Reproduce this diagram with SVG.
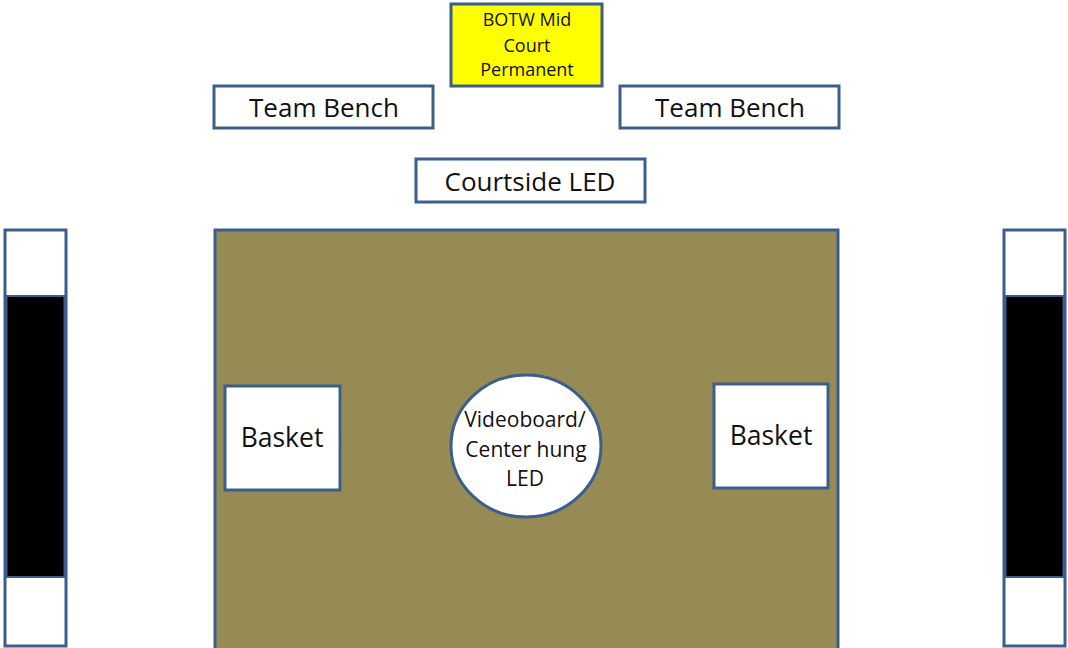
<svg xmlns="http://www.w3.org/2000/svg" width="1068" height="648" viewBox="0 0 1068 648">
<style>
.box{fill:#fff;stroke:#3B5E8C;stroke-width:3}
.t{font-family:"Open Sans","Liberation Sans",sans-serif;fill:#111;text-anchor:middle}
</style>
<rect width="1068" height="648" fill="#fff"/>
<g id="court">
<rect x="215" y="230" width="623" height="422" fill="#968B54" stroke="#3B5E8C" stroke-width="3"/>
</g>
<g id="botw">
<rect x="451" y="4" width="151" height="82" fill="#FFFF00" stroke="#3B5E8C" stroke-width="3"/>
<text class="t" font-size="18"><tspan x="527" y="26">BOTW Mid</tspan><tspan x="527" y="52">Court</tspan><tspan x="527" y="76">Permanent</tspan></text>
</g>
<g id="bench-left">
<rect class="box" x="214" y="86" width="219" height="42"/>
<text class="t" x="324" y="117" font-size="26">Team Bench</text>
</g>
<g id="bench-right">
<rect class="box" x="620" y="86" width="219" height="42"/>
<text class="t" x="730" y="117" font-size="26">Team Bench</text>
</g>
<g id="courtside">
<rect class="box" x="416" y="159" width="229" height="43"/>
<text class="t" x="530" y="191" font-size="26">Courtside LED</text>
</g>
<g id="side-left">
<rect class="box" x="5" y="230" width="61" height="416"/>
<rect x="6.5" y="296" width="58" height="281" fill="#000" stroke="#3B5E8C" stroke-width="2"/>
</g>
<g id="side-right">
<rect class="box" x="1004" y="230" width="61" height="416"/>
<rect x="1005.5" y="296" width="58" height="281" fill="#000" stroke="#3B5E8C" stroke-width="2"/>
</g>
<g id="basket-left">
<rect class="box" x="225" y="386" width="115" height="104"/>
<text class="t" x="282" y="447" font-size="26.5">Basket</text>
</g>
<g id="basket-right">
<rect class="box" x="714" y="384" width="114" height="104"/>
<text class="t" x="771" y="445" font-size="26.5">Basket</text>
</g>
<g id="videoboard">
<ellipse cx="526" cy="446" rx="75" ry="71" fill="#fff" stroke="#3B5E8C" stroke-width="3"/>
<text class="t" font-size="21"><tspan x="525" y="427">Videoboard/</tspan><tspan x="526" y="457">Center hung</tspan><tspan x="525" y="486">LED</tspan></text>
</g>
<g id="connectors"></g>
</svg>
